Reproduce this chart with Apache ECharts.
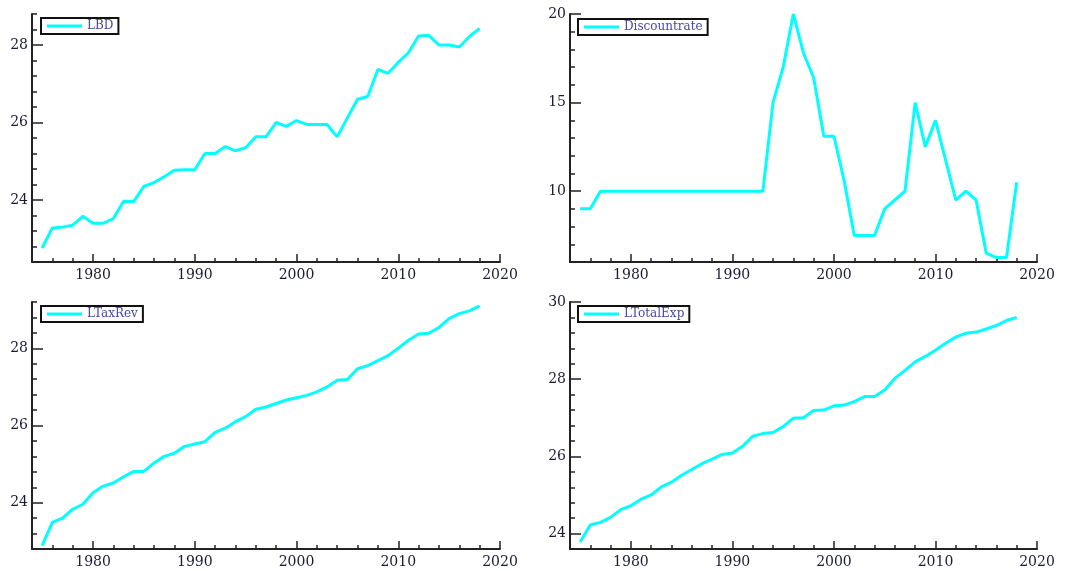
<!DOCTYPE html>
<html><head><meta charset="utf-8">
<script src="https://cdn.jsdelivr.net/npm/echarts@6/dist/echarts.min.js"></script>
<style>html,body{margin:0;padding:0;background:#fff}#c{width:1068px;height:571px}</style>
</head><body><div id="c"></div>
<script>
const years = [1975,1976,1977,1978,1979,1980,1981,1982,1983,1984,1985,1986,1987,1988,1989,1990,1991,1992,1993,1994,1995,1996,1997,1998,1999,2000,2001,2002,2003,2004,2005,2006,2007,2008,2009,2010,2011,2012,2013,2014,2015,2016,2017,2018];
const lbd = [22.76,23.28,23.30,23.35,23.58,23.40,23.40,23.52,23.97,23.96,24.35,24.45,24.60,24.77,24.78,24.78,25.20,25.20,25.38,25.27,25.35,25.63,25.63,26.00,25.90,26.05,25.95,25.95,25.95,25.63,26.12,26.60,26.67,27.37,27.27,27.55,27.80,28.23,28.25,28.00,28.00,27.95,28.22,28.43];
const discountrate = [9,9,10,10,10,10,10,10,10,10,10,10,10,10,10,10,10,10,10,15,17,20,17.8,16.4,13.1,13.1,10.6,7.5,7.5,7.5,9,9.5,10,15,12.5,14,11.75,9.5,10,9.5,6.5,6.25,6.25,10.5];
const ltaxrev = [22.89,23.49,23.60,23.83,23.96,24.26,24.43,24.51,24.67,24.81,24.81,25.03,25.20,25.28,25.46,25.52,25.58,25.82,25.93,26.10,26.23,26.42,26.48,26.57,26.66,26.72,26.78,26.87,27.00,27.17,27.19,27.47,27.55,27.68,27.81,28.00,28.21,28.37,28.39,28.54,28.77,28.90,28.97,29.10];
const ltotalexp = [23.78,24.22,24.29,24.42,24.62,24.72,24.89,25.00,25.21,25.33,25.51,25.66,25.81,25.93,26.05,26.09,26.26,26.52,26.59,26.62,26.77,26.99,27.00,27.19,27.20,27.31,27.33,27.42,27.55,27.55,27.72,28.02,28.23,28.45,28.59,28.75,28.93,29.09,29.19,29.22,29.30,29.39,29.52,29.60];

const xMajorTicks = [1980,1990,2000,2010,2020];
const xMinorTicks = [1976,1978,1980,1982,1984,1986,1988,1990,1992,1994,1996,1998,2000,2002,2004,2006,2008,2010,2012,2014,2016,2018,2020];
const yLabelsLBD = [24,26,28];
const yLabelsDisc = [10,15,20];
const yLabelsTax = [24,26,28];
const yLabelsExp = [24,26,28,30];

function steps(a, b, s) { const r = []; for (let v = a; v <= b + 1e-9; v += s) r.push(Math.round(v * 100) / 100); return r; }

const panels = [
  {name:'LBD', vals:lbd, grid:{left:32,top:14,width:468,height:248}, ymin:22.4, ymax:28.8, labels:yLabelsLBD, minor:steps(22.4,28.8,0.4), lg:{left:41,top:18}},
  {name:'Discountrate', vals:discountrate, grid:{left:570,top:14,width:467,height:248}, ymin:6, ymax:20, labels:yLabelsDisc, minor:steps(6,20,1), lg:{left:578,top:19}},
  {name:'LTaxRev', vals:ltaxrev, grid:{left:32,top:302,width:468,height:247}, ymin:22.8, ymax:29.2, labels:yLabelsTax, minor:steps(22.8,29.2,0.4), lg:{left:41,top:306}},
  {name:'LTotalExp', vals:ltotalexp, grid:{left:570,top:302,width:467,height:247}, ymin:23.6, ymax:30, labels:yLabelsExp, minor:steps(23.6,30,0.4), lg:{left:578,top:306}}
];

const axisColor = '#222';
const labelStyle = {fontFamily:'DejaVu Serif', fontSize:14, color:'#1a1a33', formatter:(v) => String(v)};
const grids = [], xAxes = [], yAxes = [], series = [], legends = [];
panels.forEach((p, i) => {
  grids.push(Object.assign({containLabel:false}, p.grid));
  xAxes.push({type:'value', gridIndex:i, position:'bottom', min:1974, max:2020,
    axisLine:{show:true, lineStyle:{color:axisColor, width:2}},
    axisTick:{show:true, inside:true, length:8, customValues:xMajorTicks, lineStyle:{color:axisColor, width:1.5}},
    axisLabel:Object.assign({show:true, margin:6, customValues:xMajorTicks}, labelStyle),
    splitLine:{show:false}});
  xAxes.push({type:'value', gridIndex:i, position:'bottom', min:1974, max:2020,
    axisLine:{show:false},
    axisTick:{show:true, inside:true, length:4, customValues:xMinorTicks, lineStyle:{color:axisColor, width:1.5}},
    axisLabel:{show:false}, splitLine:{show:false}});
  yAxes.push({type:'value', gridIndex:i, position:'left', min:p.ymin, max:p.ymax,
    axisLine:{show:true, lineStyle:{color:axisColor, width:2}},
    axisTick:{show:true, inside:true, length:11, customValues:p.labels, lineStyle:{color:axisColor, width:1.5}},
    axisLabel:Object.assign({show:true, margin:4, customValues:p.labels}, labelStyle),
    splitLine:{show:false}});
  yAxes.push({type:'value', gridIndex:i, position:'left', min:p.ymin, max:p.ymax,
    axisLine:{show:false},
    axisTick:{show:true, inside:true, length:5, customValues:p.minor, lineStyle:{color:axisColor, width:1.5}},
    axisLabel:{show:false}, splitLine:{show:false}});
  series.push({type:'line', name:p.name, xAxisIndex:2*i, yAxisIndex:2*i,
    data:years.map((y, k) => [y, p.vals[k]]), showSymbol:false, symbol:'none',
    lineStyle:{width:3, color:'#00ffff'}, itemStyle:{color:'#00ffff'}, animation:false});
  legends.push({data:[p.name], left:p.lg.left, top:p.lg.top, orient:'horizontal',
    borderColor:'#111', borderWidth:2, borderRadius:0, padding:[2,5,2,6],
    itemWidth:35, itemHeight:3, icon:'rect', selectedMode:false,
    textStyle:{fontFamily:'DejaVu Serif', fontSize:12, color:'#4848a0'}});
});

const chart = echarts.init(document.getElementById('c'), null, {renderer:'canvas'});
chart.setOption({animation:false, backgroundColor:'#fff', grid:grids, xAxis:xAxes, yAxis:yAxes, legend:legends, series:series});
</script></body></html>
